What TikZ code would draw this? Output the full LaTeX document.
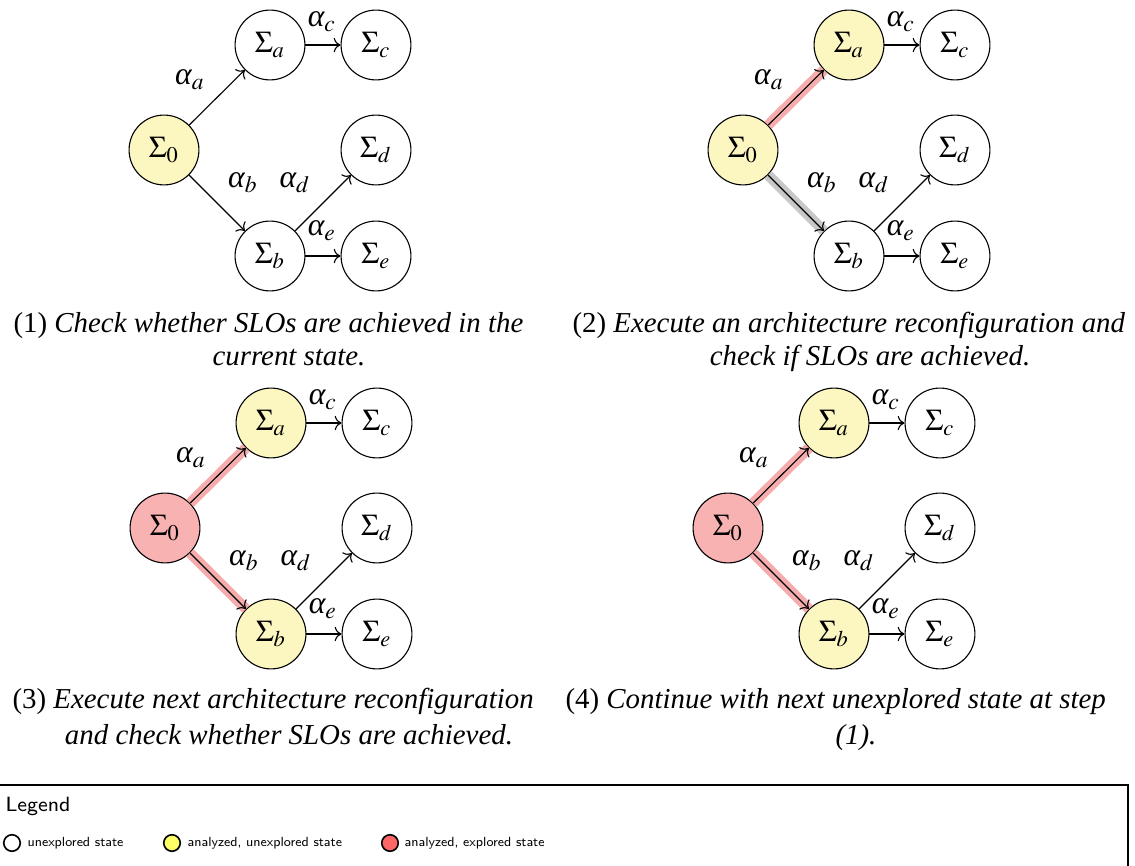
\documentclass[tikz,border=0pt]{standalone}
\usepackage{mathptmx}
\usepackage[no-math]{fontspec}
\setmainfont{Liberation Serif}
\usetikzlibrary{arrows.meta}
\definecolor{nodeyellow}{RGB}{252,246,193}
\definecolor{nodered}{RGB}{249,178,178}
\definecolor{bandred}{RGB}{245,172,172}
\definecolor{bandgray}{RGB}{200,200,200}
\definecolor{legyellow}{RGB}{255,255,102}
\definecolor{legred}{RGB}{255,102,102}
\newcommand\myalpha{\textit{α}}
\tikzset{
  state/.style={circle, draw, line width=0.4pt, minimum size=25.4pt, inner sep=0pt, fill=white, font=\fontsize{11}{13}\selectfont},
  trans/.style={->, line width=0.4pt},
  band/.style={line width=3.8pt},
  lbl/.style={inner sep=0pt, font=\fontsize{11.5}{13}\selectfont},
  capline/.style={inner sep=0pt, font=\fontsize{10.5}{12}\selectfont},
  legtitle/.style={inner sep=0pt, font=\sffamily\fontsize{7.5}{9}\selectfont},
  legtext/.style={inner sep=0pt, font=\sffamily\fontsize{4.8}{6}\selectfont, anchor=west},
  legdot/.style={circle, draw, line width=0.6pt, minimum size=6pt, inner sep=0pt}
}
\newcommand\mypanel[8]{%
  \begin{scope}[shift={(#2,#3)}]
    \node[state,fill=#4] (#1z) at (0,0) {$\Sigma_0$};
    \node[state,fill=#5] (#1a) at (106,-105) {$\Sigma_a$};
    \node[state] (#1c) at (212,-105) {$\Sigma_c$};
    \node[state] (#1d) at (212,0) {$\Sigma_d$};
    \node[state,fill=#6] (#1b) at (106,106) {$\Sigma_b$};
    \node[state] (#1e) at (212,106) {$\Sigma_e$};
    \draw[band,#7] (#1z) -- (#1a);
    \draw[band,#8] (#1z) -- (#1b);
    \draw[trans] (#1z) -- (#1a);
    \draw[trans] (#1z) -- (#1b);
    \draw[trans] (#1a) -- (#1c);
    \draw[trans] (#1b) -- (#1d);
    \draw[trans] (#1b) -- (#1e);
    \node[lbl] (#1la) at (26,-70) {$\myalpha_a$};
    \node[lbl] (#1lb) at (79,33) {$\myalpha_b$};
    \node[lbl] (#1ld) at (131,33) {$\myalpha_d$};
    \node[lbl] (#1lc) at (158,-128) {$\myalpha_c$};
    \node[lbl] (#1le) at (158,81) {$\myalpha_e$};
  \end{scope}}
\begin{document}
\begin{tikzpicture}[x=0.3636pt, y=-0.3636pt]
\useasboundingbox (0,0) rectangle (1135,866);
\mypanel{p}{164}{150}{nodeyellow}{white}{white}{draw=none}{draw=none}
\mypanel{q}{743}{150}{nodeyellow}{nodeyellow}{white}{draw=bandred}{draw=bandgray}
\mypanel{r}{165}{528}{nodered}{nodeyellow}{nodeyellow}{draw=bandred}{draw=bandred}
\mypanel{s}{728}{528}{nodered}{nodeyellow}{nodeyellow}{draw=bandred}{draw=bandred}
% captions
\node[capline, anchor=base west] (c1a) at (13,333) {(1) \textit{Check whether SLOs are achieved in the}};
\node[capline, anchor=base] (c1b) at (289,366) {\textit{current state.}};
\node[capline, anchor=base west] (c2a) at (572,333) {(2) \textit{Execute an architecture reconfiguration and}};
\node[capline, anchor=base] (c2b) at (870,366) {\textit{check if SLOs are achieved.}};
\node[capline, anchor=base west] (c3a) at (12,709) {(3) \textit{Execute next architecture reconfiguration}};
\node[capline, anchor=base] (c3b) at (289,745) {\textit{and check whether SLOs are achieved.}};
\node[capline, anchor=base west] (c4a) at (565,709) {(4) \textit{Continue with next unexplored state at step}};
\node[capline, anchor=base] (c4b) at (856,745) {\textit{(1).}};
% legend
\draw[line width=0.6pt] (-5,785) rectangle (1128,900);
\node[legtitle, anchor=west] (legt) at (5,806) {Legend};
\node[legdot, fill=white] (l1) at (12,843) {};
\node[legtext] (l1t) at (27,843) {unexplored state};
\node[legdot, fill=legyellow] (l2) at (172,843) {};
\node[legtext] (l2t) at (187,843) {analyzed, unexplored state};
\node[legdot, fill=legred] (l3) at (390,843) {};
\node[legtext] (l3t) at (404,843) {analyzed, explored state};
\end{tikzpicture}
\end{document}
